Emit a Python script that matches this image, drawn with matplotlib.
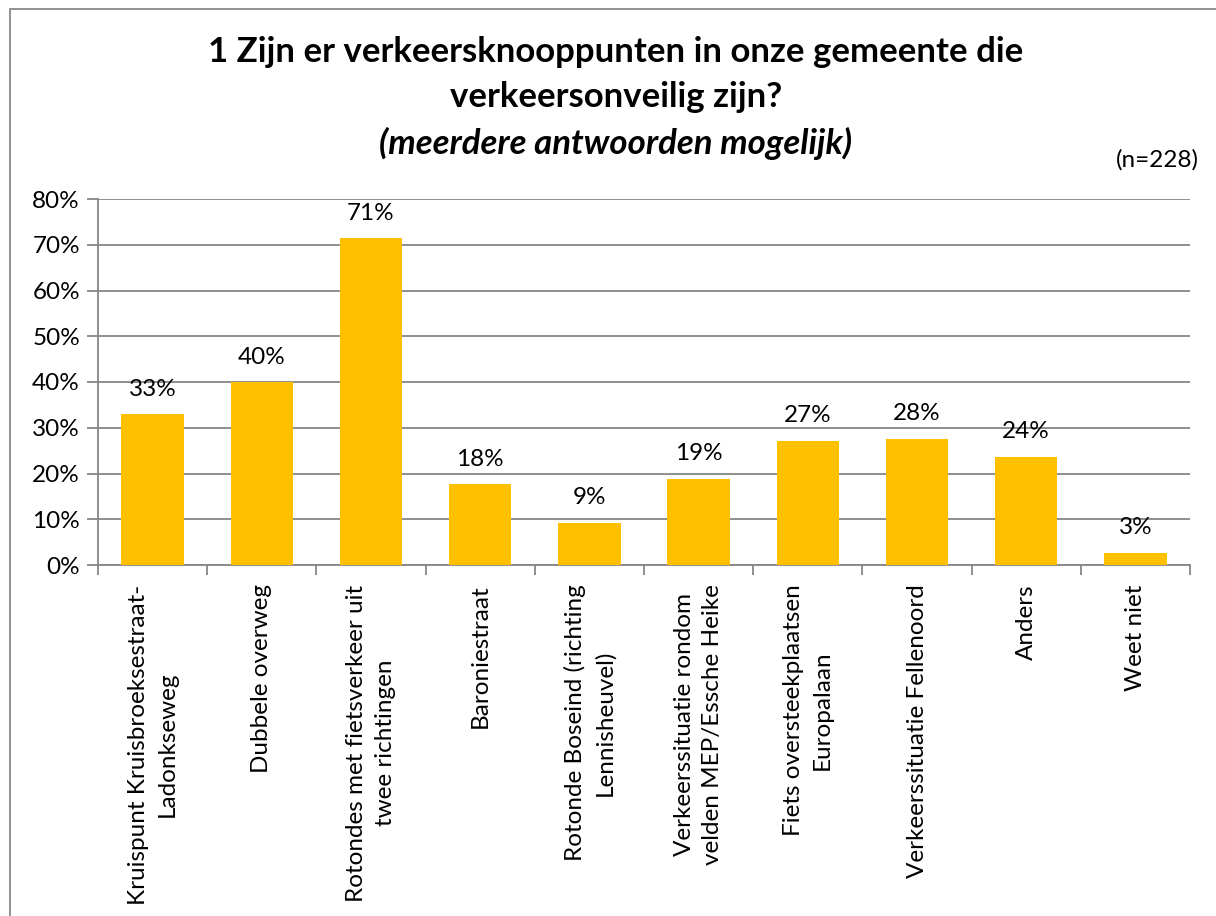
import matplotlib.pyplot as plt
from matplotlib.patches import Rectangle
from matplotlib.ticker import FixedLocator

categories = [
    "Kruispunt Kruisbroeksestraat-\nLadonkseweg",
    "Dubbele overweg",
    "Rotondes met fietsverkeer uit\ntwee richtingen",
    "Baroniestraat",
    "Rotonde Boseind (richting\nLennisheuvel)",
    "Verkeerssituatie rondom\nvelden MEP/Essche Heike",
    "Fiets oversteekplaatsen\nEuropalaan",
    "Verkeerssituatie Fellenoord",
    "Anders",
    "Weet niet",
]
percentages = [32.9, 39.9, 71.4, 17.6, 9.2, 18.9, 27.2, 27.6, 23.7, 2.6]
y_ticks = [0, 10, 20, 30, 40, 50, 60, 70, 80]

plt.rcParams['font.family'] = ['Lato', 'DejaVu Sans']

BAR_COLOR = '#FFC000'
GRID_COLOR = '#868686'
FS = 17.5

fig = plt.figure(figsize=(12.16, 9.16), dpi=100)
ax = fig.add_axes([98 / 1216, 1 - 565 / 916, (1190 - 98) / 1216, (565 - 199) / 916])

x = list(range(len(categories)))
bars = ax.bar(x, percentages, width=0.57, color=BAR_COLOR, zorder=3)

for bar, v in zip(bars, percentages):
    ax.text(bar.get_x() + bar.get_width() / 2, v + 3.2, f"{v:.0f}%",
            ha='center', va='bottom', fontsize=FS, zorder=4)

ax.set_xlim(-0.5, len(categories) - 0.5)
ax.set_ylim(0, 80)
ax.set_yticks(y_ticks)
ax.set_yticklabels([f"{t}%" for t in y_ticks], fontsize=FS)
ax.yaxis.grid(True, color=GRID_COLOR, linewidth=1.3, zorder=0)

ax.set_xticks(x)
ax.set_xticklabels(categories, rotation=90, fontsize=FS, ha='center', va='top',
                   multialignment='center', linespacing=1.45)
ax.tick_params(axis='x', which='major', length=0, pad=14)
ax.xaxis.set_minor_locator(FixedLocator([i - 0.5 for i in range(len(categories) + 1)]))
ax.tick_params(axis='x', which='minor', length=7, width=1.3, color=GRID_COLOR)
ax.tick_params(axis='y', length=8, width=1.3, color=GRID_COLOR, pad=5)

for side in ['top', 'right']:
    ax.spines[side].set_visible(False)
for side in ['left', 'bottom']:
    ax.spines[side].set_color(GRID_COLOR)
    ax.spines[side].set_linewidth(1.3)

fig.text(616 / 1216, 1 - 52 / 916, "1 Zijn er verkeersknooppunten in onze gemeente die",
         ha='center', va='center', fontsize=25, fontweight='bold')
fig.text(616 / 1216, 1 - 97 / 916, "verkeersonveilig zijn?",
         ha='center', va='center', fontsize=25, fontweight='bold')
fig.text(616 / 1216, 1 - 143 / 916, "(meerdere antwoorden mogelijk)",
         ha='center', va='center', fontsize=25, fontweight='bold', style='italic')
fig.text(1199 / 1216, 1 - 160 / 916, "(n=228)", ha='right', va='center', fontsize=FS)

# chart frame, cut off at the right and bottom like the source
fig.patches.append(Rectangle((10 / 1216, -0.1), 1.2, 1 - 9 / 916 + 0.1,
                             transform=fig.transFigure, fill=False,
                             edgecolor='#898989', linewidth=1.3))

fig.savefig('out.png', dpi=100)
